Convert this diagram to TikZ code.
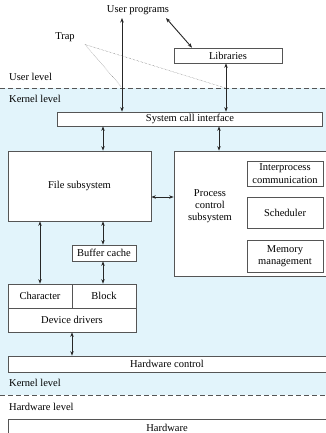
\documentclass[tikz,border=0pt]{standalone}
\usepackage{fontspec}
\setmainfont{Liberation Serif}
\usetikzlibrary{arrows.meta,calc}
\definecolor{kblue}{HTML}{E2F4FB}
\definecolor{lineg}{HTML}{555555}
\tikzset{
  box/.style={draw=lineg, line width=0.7pt, fill=white, inner sep=0pt, font=\fontsize{10.5}{12.3}\selectfont},
  lbl/.style={inner sep=0pt, font=\fontsize{10.5}{12.3}\selectfont},
  dbl/.style={line width=0.9pt, draw=black!85, {Stealth[length=4.5pt,width=3.5pt]}-{Stealth[length=4.5pt,width=3.5pt]}},
  trapline/.style={densely dotted, line width=0.4pt, draw=lineg},
  level/.style={dashed, dash pattern=on 5pt off 3pt, line width=0.6pt, draw=lineg}
}
\begin{document}
\begin{tikzpicture}[x=1pt,y=-1pt]
\useasboundingbox (0,0) rectangle (326,433);
\clip (0,0) rectangle (326,433);
\fill[white] (0,0) rectangle (326,433);
\fill[kblue] (0,88) rectangle (326,395);
% level lines
\coordinate (ul0) at (0,88);
\coordinate (ul1) at (326,88);
\coordinate (hl0) at (0,395);
\coordinate (hl1) at (326,395);
\draw[level] (ul0) -- (ul1);
\draw[level] (hl0) -- (hl1);
% level labels
\node[lbl, anchor=west] (userlevel) at (9,77) {User level};
\node[lbl, anchor=west] (kernellevel1) at (9,99) {Kernel level};
\node[lbl, anchor=west] (kernellevel2) at (9,383) {Kernel level};
\node[lbl, anchor=west] (hwlevel) at (9,407) {Hardware level};
% top
\node[lbl] (up) at (138,10) {User programs};
\node[lbl] (trap) at (65,37) {Trap};
\node[box, minimum width=108pt, minimum height=15pt] (lib) at (228,55.5) {Libraries};
% system call interface
\node[box, minimum width=265pt, minimum height=14pt] (sci) at (190,119) {System call interface};
% file subsystem
\node[box, minimum width=143pt, minimum height=70pt] (fs) at (79.5,186) {File subsystem};
% process control
\node[box, minimum width=152pt, minimum height=125pt] (pc) at (250,213.5) {};
\node[lbl, align=center] (pctext) at (210,206) {Process\\control\\subsystem};
\node[box, minimum width=76pt, minimum height=25pt, align=center] (ipc) at (285,173.5) {Interprocess\\communication};
\node[box, minimum width=76pt, minimum height=31pt] (sched) at (285,212.5) {Scheduler};
\node[box, minimum width=76pt, minimum height=32pt, align=center] (mem) at (285,256) {Memory\\management};
% buffer cache
\node[box, minimum width=64pt, minimum height=16pt] (bc) at (104,253) {Buffer cache};
% device drivers
\node[box, minimum width=64pt, minimum height=24pt] (chr) at (40,296) {Character};
\node[box, minimum width=64pt, minimum height=24pt] (blk) at (104,296) {Block};
\node[box, minimum width=128pt, minimum height=24pt] (dd) at (72,320) {Device drivers};
% hardware control
\node[box, minimum width=340pt, minimum height=16pt, anchor=west] (hc) at (8,364) {};
\node[lbl] (hctext) at (167,364) {Hardware control};
% hardware
\node[box, minimum width=340pt, minimum height=30pt, anchor=north west] (hw) at (8,419) {};
\node[lbl] (hwtext) at (167,427.5) {Hardware};
% arrows
\coordinate (a1top) at (122,18);
\draw[dbl] (a1top) -- (122,0 |- sci.north);
\draw[dbl] (lib.south -| 226,0) -- (226,0 |- sci.north);
\draw[dbl] (166,18) -- (lib.north -| 192,0);
\draw[dbl] (sci.south -| 103,0) -- (fs.north -| 103,0);
\draw[dbl] (sci.south -| 219,0) -- (pc.north -| 219,0);
\draw[dbl] (fs.east |- 0,197) -- (pc.west |- 0,197);
\draw[dbl] (fs.south -| 103,0) -- (bc.north -| 103,0);
\draw[dbl] (bc.south -| 103,0) -- (blk.north -| 103,0);
\draw[dbl] (fs.south -| 40,0) -- (chr.north -| 40,0);
\draw[dbl] (dd.south -| 72,0) -- (hc.north -| 72,0);
% trap lines
\coordinate (t1) at (121.5,87);
\coordinate (t2) at (225.5,88);
\coordinate (tp) at (85,44.5);
\draw[trapline] (tp) -- (t1);
\draw[trapline] (tp) -- (t2);
\end{tikzpicture}
\end{document}
